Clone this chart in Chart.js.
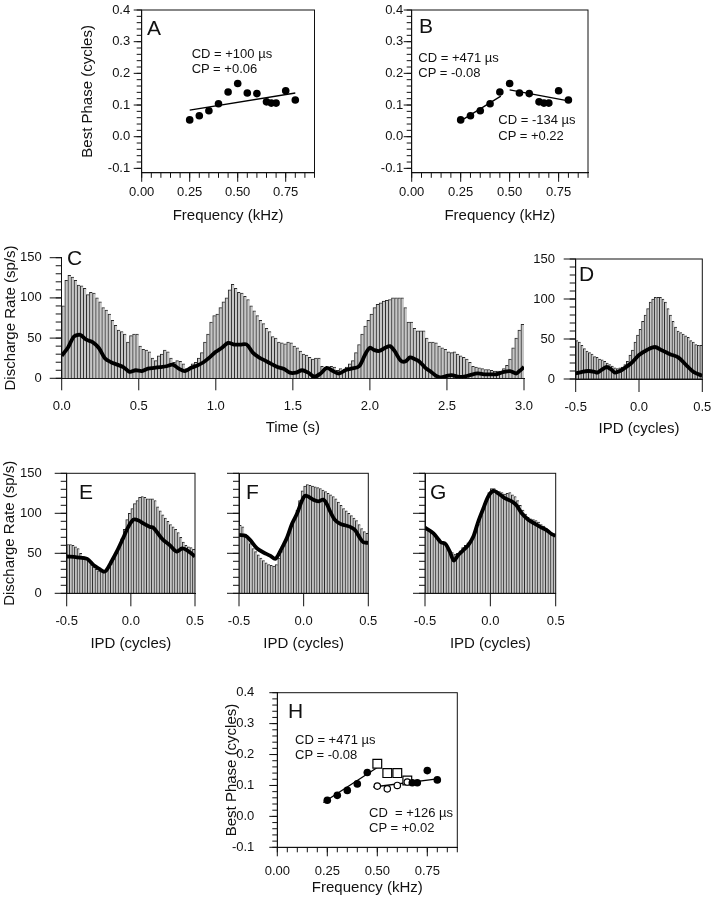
<!DOCTYPE html>
<html><head><meta charset="utf-8">
<script src="https://cdn.jsdelivr.net/npm/chart.js@4.4.1/dist/chart.umd.min.js"></script>
<style>
html,body{margin:0;padding:0;background:#fff;overflow:hidden;}
#fig{position:relative;width:715px;height:900px;overflow:hidden;font-family:"Liberation Sans",Arial,sans-serif;color:#111;}
#fig canvas{position:absolute;}
.t{position:absolute;font-size:13px;line-height:13px;white-space:pre;}
.L{position:absolute;font-size:21px;line-height:21px;}
</style></head><body><div id="fig"></div>
<script>
// ---------- DATA ----------
// Panels A, B: best phase vs frequency
const freqKHz   = [0.25,0.30,0.35,0.40,0.45,0.50,0.55,0.60,0.65,0.675,0.70,0.75,0.80];
const bestPhase = [0.053,0.066,0.082,0.104,0.141,0.168,0.138,0.136,0.110,0.106,0.106,0.145,0.116];
const fitAFreq = [0.25,0.80],  fitAPhase = [0.084,0.138];
const fitB1Freq = [0.24,0.455], fitB1Phase = [0.046,0.128];
const fitB2Freq = [0.50,0.80],  fitB2Phase = [0.148,0.113];
// Panel H
const hFilledFreq  = [0.25,0.30,0.35,0.40,0.45,0.675,0.70,0.75,0.80];
const hFilledPhase = [0.052,0.068,0.084,0.105,0.142,0.109,0.109,0.148,0.118];
const hSquareFreq  = [0.50,0.55,0.60,0.65];
const hSquarePhase = [0.170,0.140,0.140,0.116];
const hOpenFreq    = [0.50,0.55,0.60,0.65];
const hOpenPhase   = [0.098,0.089,0.100,0.111];
const hFit1Freq = [0.23,0.50], hFit1Phase = [0.045,0.158];
const hFit2Freq = [0.48,0.81], hFit2Phase = [0.095,0.122];

// Panel C: discharge rate vs time (0.02 s bins starting at 0)
const timeBinWidth = 0.02;
const cRate = [
 90,122,128,126,122,116,115,112,104,107,
 106,100,95,88,85,80,72,66,60,58,
 55,45,53,55,55,40,36,35,33,25,
 22,28,30,35,33,25,20,22,21,18,
 12,12,18,20,25,32,45,55,70,78,
 80,88,95,100,110,117,112,107,106,102,
 98,90,84,78,72,68,62,58,52,50,
 45,44,43,45,44,40,38,34,30,29,
 26,24,25,25,15,12,13,15,14,10,
 12,10,14,18,22,32,42,55,65,72,
 80,88,92,94,96,97,98,100,100,100,
 100,88,70,70,62,59,59,59,50,45,
 45,44,40,38,36,33,32,33,30,28,
 26,24,20,15,14,13,12,11,11,10,
 9,9,9,12,16,24,38,50,60,67];
const cLineTime = [0,0.04,0.08,0.12,0.16,0.20,0.24,0.28,0.32,0.36,0.40,0.44,0.48,0.52,0.56,0.60,0.64,0.68,0.72,0.76,0.80,0.84,0.88,0.92,0.96,
 1.00,1.04,1.08,1.12,1.16,1.20,1.24,1.28,1.32,1.36,1.40,1.44,1.48,1.52,1.56,1.60,1.64,1.68,1.72,1.76,1.80,1.84,1.88,
 1.93,1.97,2.00,2.03,2.06,2.10,2.13,2.16,2.20,2.23,2.26,2.29,2.32,2.36,2.39,2.43,2.46,2.50,2.53,2.57,2.61,2.65,2.70,2.74,2.78,2.82,2.87,2.91,2.95,2.97,3.00];
const cLineRate = [28,38,52,54,48,45,38,25,20,17,14,8,10,9,12,13,14,15,17,12,9,13,16,20,26,
 33,38,44,42,42,42,32,26,22,18,14,12,7,7,10,7,2,6,13,9,6,10,12,
 15,30,38,35,34,38,40,34,22,21,26,24,21,13,9,3,1,3,4,2,2,4,6,5,5,5,8,9,6,9,14];

// Panels D-G: discharge rate vs IPD (0.02-cycle bins starting at -0.5)
const ipdBinStart = -0.5, ipdBinWidth = 0.02;
const dRate = [48,46,42,38,35,33,31,28,27,25, 24,22,20,18,16,14,13,14,15,18, 22,30,36,46,55,62,72,80,88,96,
 100,102,102,102,100,96,88,80,72,65, 60,58,56,54,52,48,46,43,42,42];
const dLineIpd  = [-0.5,-0.45,-0.4,-0.35,-0.33,-0.29,-0.255,-0.22,-0.19,-0.15,-0.12,-0.06,0,0.06,0.125,0.18,0.245,0.31,0.375,0.43,0.5];
const dLineRate = [7,9,10,9,8,12,15,12,8,10,13,20,30,36,40,36,31,27,17,9,4];
const eRate = [61,61,60,58,56,50,46,43,40,36, 33,30,28,27,26,28,32,37,43,50, 58,68,80,92,100,106,112,116,120,121,
 120,118,118,118,116,108,103,98,94,90, 86,83,80,76,70,64,60,58,57,55];
const eLineIpd  = [-0.5,-0.42,-0.34,-0.29,-0.24,-0.21,-0.19,-0.15,-0.11,-0.06,-0.02,0.02,0.06,0.1,0.15,0.175,0.21,0.25,0.305,0.34,0.357,0.4,0.435,0.47,0.5];
const eLineRate = [46,45,43,35,30,27,29,40,52,69,83,92,91,87,83,82,75,67,60,54,52,56,54,50,46];
const fRate = [85,83,74,68,62,56,52,48,44,41, 38,36,35,34,36,44,52,60,68,76, 84,94,104,116,128,134,136,135,134,133,
 132,131,129,127,125,123,121,118,114,110, 106,103,100,97,94,91,86,81,77,75];
const fLineIpd  = [-0.5,-0.45,-0.415,-0.36,-0.31,-0.26,-0.22,-0.196,-0.17,-0.13,-0.09,-0.05,-0.015,0.01,0.035,0.075,0.113,0.152,0.178,0.2,0.24,0.28,0.32,0.36,0.397,0.436,0.46,0.5];
const fLineRate = [73,72,67,56,51,47,43,48,56,69,87,100,115,122,121,117,115,117,112,104,92,87,85,83,79,69,64,63];
const gRate = [81,79,76,73,70,68,65,62,58,54, 51,49,50,53,57,60,63,66,70,76, 86,97,106,116,126,131,131,128,127,126,
 124,125,126,123,121,116,110,104,99,95, 93,92,91,89,86,84,81,78,75,73];
const gLineIpd  = [-0.5,-0.435,-0.38,-0.345,-0.31,-0.28,-0.245,-0.207,-0.17,-0.13,-0.092,-0.054,-0.016,0.023,0.06,0.11,0.164,0.2,0.24,0.29,0.34,0.38,0.43,0.47,0.5];
const gLineRate = [82,75,64,62,52,41,48,54,60,71,90,106,121,128,125,119,115,110,100,92,87,83,79,74,72];

// Tick labels
const phaseTickLabels = [-0.1,0,0.1,0.2,0.3,0.4];
const freqTickLabels  = [0,0.25,0.5,0.75];
const rateTickLabels  = [0,50,100,150];
const timeTickLabels  = [0,0.5,1,1.5,2,2.5,3];
const ipdTickLabels   = [-0.5,0,0.5];

// ---------- DRAWING ----------
const FONT = '"Liberation Sans", Arial, sans-serif';
const INK = '#111';
const fig = document.getElementById('fig');
const pts = (xs, ys) => xs.map((x, i) => ({x, y: ys[i]}));
const range = (a, b, s) => { const n = Math.round((b - a) / s); return Array.from({length: n + 1}, (_, i) => +(a + i * s).toFixed(6)); };

function histSets(rates, start, width, lineX, lineY) {
  return [
    {type: 'line', order: 0, data: pts(lineX, lineY), borderColor: '#000', borderWidth: 3.8,
     pointRadius: 0, tension: 0.3, fill: false},
    {type: 'bar', order: 1, data: rates.map((r, i) => ({x: +(start + width * (i + 0.5)).toFixed(4), y: r})),
     backgroundColor: '#c6c6c6', borderColor: '#2a2a2a', borderWidth: {top: 1, left: 1, right: 0, bottom: 0},
     borderSkipped: false, barPercentage: 1, categoryPercentage: 1}
  ];
}
function fitLine(xs, ys, order) {
  return {type: 'line', order, data: pts(xs, ys), borderColor: '#000', borderWidth: 1.3, pointRadius: 0, fill: false};
}

function panel(p) {
  const left = Math.round(p.L - p.wy), top = Math.round(p.T - p.padT);
  const right = Math.round(p.R + p.padR), bottom = Math.round(p.B + p.hx);
  const cv = document.createElement('canvas');
  cv.width = right - left; cv.height = bottom - top;
  cv.style.left = left + 'px'; cv.style.top = top + 'px';
  cv.style.width = cv.width + 'px'; cv.style.height = cv.height + 'px';
  fig.appendChild(cv);
  const wy = p.L - left, padT = p.T - top, padR = right - p.R, hx = bottom - p.B;
  const tk = p.tk;
  const frame = {
    id: 'frameTicks',
    afterDraw(chart) {
      const {ctx, chartArea: a, scales: {x, y}} = chart;
      ctx.save(); ctx.strokeStyle = INK; ctx.lineWidth = 1;
      if (p.box) ctx.strokeRect(a.left, a.top, a.right - a.left, a.bottom - a.top);
      ctx.beginPath();
      for (const t of tk.x) for (const v of t.v) { const px = x.getPixelForValue(v); ctx.moveTo(px, a.bottom); ctx.lineTo(px, a.bottom + t.len); }
      for (const t of tk.y) for (const v of t.v) { const py = y.getPixelForValue(v); ctx.moveTo(a.left, py); ctx.lineTo(a.left - t.len, py); }
      ctx.stroke(); ctx.restore();
    }
  };
  const axis = (s, isX) => ({
    type: 'linear', position: isX ? 'bottom' : 'left', min: s.min, max: s.max, offset: false,
    afterFit: sc => { if (isX) sc.height = hx; else sc.width = wy; },
    afterBuildTicks: sc => { sc.ticks = s.ticks.map(v => ({value: v})); },
    grid: {display: false, drawTicks: false},
    border: {display: true, color: INK, width: 1},
    ticks: {display: s.labels !== false, font: {family: FONT, size: 13}, color: INK, padding: s.pad,
            maxRotation: 0, autoSkip: false, callback: v => s.fmt(v)},
    title: {display: !!s.title, text: s.title || '', font: {family: FONT, size: 15}, color: INK, padding: 0}
  });
  new Chart(cv, {
    type: p.type,
    data: {datasets: p.datasets},
    options: {
      responsive: false, animation: false, devicePixelRatio: 1,
      layout: {padding: {left: 0, top: padT, right: padR, bottom: 0}},
      plugins: {legend: {display: false}, tooltip: {enabled: false}},
      scales: {x: axis(p.x, true), y: axis(p.y, false)}
    },
    plugins: [frame]
  });
}

const fmtPhase = v => v.toFixed(1), fmtFreq = v => v.toFixed(2), fmt1 = v => v.toFixed(1), fmtInt = v => String(v);
const phaseTk = {x: [{v: range(0, 0.9, 0.05), len: 5}, {v: freqTickLabels, len: 9}],
                 y: [{v: range(-0.1, 0.4, 0.02), len: 5}, {v: phaseTickLabels, len: 8}]};
const rateY = [{v: range(0, 150, 10), len: 6}, {v: rateTickLabels, len: 12}];
const ipdTk = {x: [{v: ipdTickLabels, len: 13}], y: rateY};
const dot = (xs, ys, order) => ({order, data: pts(xs, ys), pointRadius: 3.8, pointBackgroundColor: '#000', pointBorderWidth: 0, showLine: false});

// A
panel({L: 141.7, T: 10, R: 314.5, B: 172.8, wy: 62.7, hx: 52.2, padT: 21, padR: 14, type: 'scatter', box: true, tk: phaseTk,
  x: {min: 0, max: 0.9, ticks: freqTickLabels, fmt: fmtFreq, pad: 12.1, title: 'Frequency (kHz)'},
  y: {min: -0.114, max: 0.4, ticks: phaseTickLabels, fmt: fmtPhase, pad: 11.5, title: 'Best Phase (cycles)'},
  datasets: [dot(freqKHz, bestPhase, 0), fitLine(fitAFreq, fitAPhase, 1)]});
// B
panel({L: 411.7, T: 10, R: 588, B: 172.8, wy: 45, hx: 52.2, padT: 18, padR: 14, type: 'scatter', box: true, tk: phaseTk,
  x: {min: 0, max: 0.9, ticks: freqTickLabels, fmt: fmtFreq, pad: 12.1, title: 'Frequency (kHz)'},
  y: {min: -0.114, max: 0.4, ticks: phaseTickLabels, fmt: fmtPhase, pad: 8.5},
  datasets: [dot(freqKHz, bestPhase, 0), fitLine(fitB1Freq, fitB1Phase, 1), fitLine(fitB2Freq, fitB2Phase, 1)]});
// C
panel({L: 61.7, T: 257.7, R: 524, B: 378.3, wy: 59.7, hx: 58.7, padT: 30, padR: 34, type: 'bar', box: false,
  tk: {x: [{v: timeTickLabels, len: 12}], y: rateY},
  x: {min: 0, max: 3, ticks: timeTickLabels, fmt: fmt1, pad: 20.6, title: 'Time (s)'},
  y: {min: 0, max: 150, ticks: rateTickLabels, fmt: fmtInt, pad: 20, title: 'Discharge Rate (sp/s)'},
  datasets: histSets(cRate, 0, timeBinWidth, cLineTime, cLineRate)});
// D
panel({L: 575.7, T: 259, R: 702.3, B: 379, wy: 48, hx: 59, padT: 31, padR: 34, type: 'bar', box: true, tk: ipdTk,
  x: {min: -0.5, max: 0.5, ticks: ipdTickLabels, fmt: fmt1, pad: 20.5, title: 'IPD (cycles)'},
  y: {min: 0, max: 150, ticks: rateTickLabels, fmt: fmtInt, pad: 20.7},
  datasets: histSets(dRate, ipdBinStart, ipdBinWidth, dLineIpd, dLineRate)});
// E
panel({L: 66.7, T: 473.3, R: 195, B: 593.3, wy: 65.7, hx: 59.7, padT: 35, padR: 34, type: 'bar', box: true, tk: ipdTk,
  x: {min: -0.5, max: 0.5, ticks: ipdTickLabels, fmt: fmt1, pad: 20.6, title: 'IPD (cycles)'},
  y: {min: 0, max: 150, ticks: rateTickLabels, fmt: fmtInt, pad: 25, title: 'Discharge Rate (sp/s)'},
  datasets: histSets(eRate, ipdBinStart, ipdBinWidth, eLineIpd, eLineRate)});
// F
panel({L: 239, T: 473.3, R: 368.3, B: 593.3, wy: 36, hx: 59.7, padT: 30, padR: 34, type: 'bar', box: true, tk: ipdTk,
  x: {min: -0.5, max: 0.5, ticks: ipdTickLabels, fmt: fmt1, pad: 20.6, title: 'IPD (cycles)'},
  y: {min: 0, max: 150, ticks: rateTickLabels, fmt: fmtInt, pad: 20, labels: false},
  datasets: histSets(fRate, ipdBinStart, ipdBinWidth, fLineIpd, fLineRate)});
// G
panel({L: 425, T: 473.3, R: 555.7, B: 593.3, wy: 36, hx: 59.7, padT: 30, padR: 34, type: 'bar', box: true, tk: ipdTk,
  x: {min: -0.5, max: 0.5, ticks: ipdTickLabels, fmt: fmt1, pad: 20.6, title: 'IPD (cycles)'},
  y: {min: 0, max: 150, ticks: rateTickLabels, fmt: fmtInt, pad: 20, labels: false},
  datasets: histSets(gRate, ipdBinStart, ipdBinWidth, gLineIpd, gLineRate)});
// H
panel({L: 277.3, T: 692.7, R: 457.3, B: 847.3, wy: 54.6, hx: 49.7, padT: 33, padR: 14, type: 'scatter', box: true,
  tk: {x: phaseTk.x, y: phaseTk.y},
  x: {min: 0, max: 0.9, ticks: freqTickLabels, fmt: fmtFreq, pad: 16.6, title: 'Frequency (kHz)'},
  y: {min: -0.1, max: 0.4, ticks: phaseTickLabels, fmt: fmtPhase, pad: 23, title: 'Best Phase (cycles)'},
  datasets: [
    dot(hFilledFreq, hFilledPhase, 0),
    {order: 1, data: pts(hOpenFreq, hOpenPhase), pointRadius: 3.2, pointBackgroundColor: '#fff', pointBorderColor: '#000', pointBorderWidth: 1.2, showLine: false},
    {order: 2, data: pts(hSquareFreq, hSquarePhase), pointStyle: 'rect', pointRadius: 6.2, pointBackgroundColor: '#fff', pointBorderColor: '#000', pointBorderWidth: 1.2, showLine: false},
    fitLine(hFit1Freq, hFit1Phase, 3), fitLine(hFit2Freq, hFit2Phase, 3)
  ]});

// ---------- TEXT ANNOTATIONS ----------
const notes = [
  ['A', 147, 17, 'L'], ['B', 419, 15, 'L'], ['C', 67, 247, 'L'], ['D', 579, 263, 'L'],
  ['E', 79, 481, 'L'], ['F', 246, 481, 'L'], ['G', 430, 481, 'L'], ['H', 288, 699.5, 'L'],
  ['CD = +100 µs', 191.7, 46.5, 't'], ['CP = +0.06', 191.7, 61.5, 't'],
  ['CD = +471 µs', 418.3, 50.8, 't'], ['CP = -0.08', 418.3, 65.8, 't'],
  ['CD = -134 µs', 498.3, 113.2, 't'], ['CP = +0.22', 498.3, 129, 't'],
  ['CD = +471 µs', 295, 732.5, 't'], ['CP = -0.08', 295, 748, 't'],
  ['CD  = +126 µs', 369, 805.7, 't'], ['CP = +0.02', 369, 821.2, 't']
];
for (const [txt, x, y, cls] of notes) {
  const d = document.createElement('div');
  d.className = cls; d.textContent = txt;
  d.style.left = x + 'px'; d.style.top = y + 'px';
  fig.appendChild(d);
}
</script></body></html>
